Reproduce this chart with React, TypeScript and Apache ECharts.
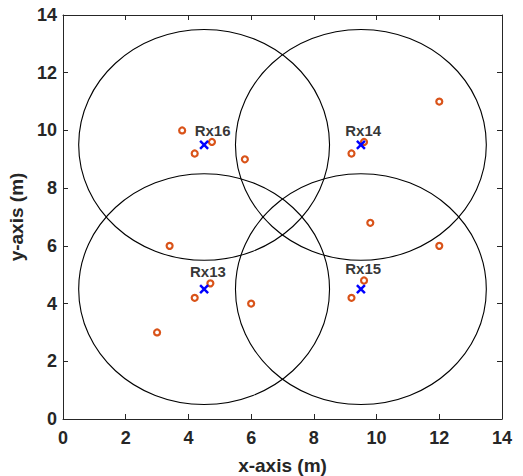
import React, { useEffect, useRef } from "react";
import * as echarts from "echarts";

const txPoints: number[][] = [
  [3.8, 10.0], [4.2, 9.2], [4.75, 9.6], [5.8, 9.0],
  [9.6, 9.6], [9.2, 9.2], [12.0, 11.0], [9.8, 6.8],
  [3.4, 6.0], [4.7, 4.7], [4.2, 4.2], [3.0, 3.0], [6.0, 4.0],
  [12.0, 6.0], [9.6, 4.8], [9.2, 4.2],
];
const rxNames = ["Rx16", "Rx14", "Rx13", "Rx15"];
const rxCenters: number[][] = [[4.5, 9.5], [9.5, 9.5], [4.5, 4.5], [9.5, 4.5]];
const rxRadius = 4;
const labelPos: number[][] = [[4.2, 10.0], [9.0, 10.0], [4.05, 5.1], [9.0, 5.2]];
const ticks = [0, 2, 4, 6, 8, 10, 12, 14];

const FONT = "Liberation Sans";
const AX = "#262626";

export default function App() {
  const ref = useRef<HTMLDivElement>(null);
  useEffect(() => {
    const chart = echarts.init(ref.current!, null, { renderer: "svg" });
    const axisCommon = {
      min: ticks[0],
      max: ticks[ticks.length - 1],
      interval: 2,
      splitLine: { show: false },
      axisLine: { show: true, onZero: false, lineStyle: { color: AX, width: 1 } },
      axisTick: { show: true, inside: true, length: 5, lineStyle: { color: AX } },
    };
    chart.setOption({
      animation: false,
      grid: { left: 63, right: 21, top: 15, bottom: 57, containLabel: false, outerBoundsMode: "none" },
      xAxis: [
        {
          ...axisCommon,
          type: "value",
          position: "bottom",
          name: "x-axis (m)",
          nameLocation: "middle",
          nameGap: 37,
          nameTextStyle: { fontFamily: FONT, fontWeight: "bold", fontSize: 19, color: AX },
          axisLabel: { fontFamily: FONT, fontWeight: "bold", fontSize: 18, color: AX, margin: 10 },
        },
        {
          ...axisCommon,
          type: "value",
          position: "top",
          axisLabel: { show: false },
        },
      ],
      yAxis: [
        {
          ...axisCommon,
          type: "value",
          position: "left",
          name: "y-axis (m)",
          nameLocation: "middle",
          nameGap: 22,
          nameTextStyle: { fontFamily: FONT, fontWeight: "bold", fontSize: 19, color: AX },
          axisLabel: { fontFamily: FONT, fontWeight: "bold", fontSize: 18, color: AX, margin: 6 },
        },
        {
          ...axisCommon,
          type: "value",
          position: "right",
          axisLabel: { show: false },
        },
      ],
      series: [
        {
          type: "custom",
          xAxisIndex: 0,
          yAxisIndex: 0,
          data: rxCenters.map((c) => [c[0], c[1], rxRadius]),
          renderItem: (params: any, api: any) => {
            const c = api.coord([api.value(0), api.value(1)]);
            const s = api.size([api.value(2), api.value(2)]);
            return {
              type: "ellipse",
              shape: { cx: c[0], cy: c[1], rx: s[0], ry: s[1] },
              style: { fill: "none", stroke: "#000", lineWidth: 1.1 },
              silent: true,
            };
          },
          z: 1,
        },
        {
          type: "scatter",
          data: txPoints,
          symbol: "circle",
          symbolSize: 6,
          itemStyle: { color: "#ffffff", borderColor: "#D95319", borderWidth: 2.2, opacity: 1 },
          z: 3,
        },
        {
          type: "scatter",
          data: rxCenters,
          symbol: "path://M0,0L10,10M10,0L0,10",
          symbolSize: 8,
          itemStyle: { color: "none", borderColor: "#0000FF", borderWidth: 2.5, opacity: 1 },
          z: 4,
        },
        {
          type: "scatter",
          data: labelPos.map((p, i) => ({ value: p, name: rxNames[i] })),
          symbolSize: 0,
          label: {
            show: true,
            position: "right",
            distance: 0,
            formatter: "{b}",
            fontFamily: FONT,
            fontWeight: "bold",
            fontSize: 15,
            color: "#000",
          },
          z: 5,
        },
      ],
    });
    return () => chart.dispose();
  }, []);
  return <div ref={ref} style={{ position: "absolute", left: 0, top: 0, width: 523, height: 476 }} />;
}
